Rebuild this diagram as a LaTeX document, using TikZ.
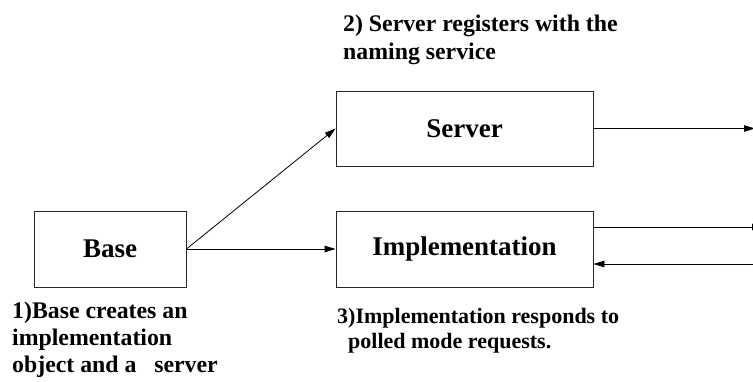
\documentclass[tikz,border=0pt]{standalone}
\usepackage{fontspec}
\setmainfont{Liberation Serif}
\usetikzlibrary{arrows.meta}
\begin{document}
\begin{tikzpicture}[x=1pt, y=-1pt,
  box/.style={draw=black!85, line width=0.9pt, inner sep=0pt,
    font=\fontsize{27}{30}\selectfont\bfseries},
  conn/.style={draw=black, line width=0.8pt,
    -{Triangle[length=11pt, width=6.5pt]}},
  lbl/.style={inner sep=0pt, align=left, anchor=base west}]
  \useasboundingbox (0,0) rectangle (753,381);

  % the three blocks
  \node[box, minimum width=152pt, minimum height=76pt] (base) at (110,249) {Base};
  \node[box, minimum width=257pt, minimum height=75pt] (server) at (464.5,128.5) {Server};
  \node[box, minimum width=257pt, minimum height=76pt] (impl) at (464.5,249) {Implementation};

  % loose ends on the right margin
  \coordinate (sout) at (755,128.5);
  \coordinate (iout) at (763,227);
  \coordinate (iin) at (760,264);

  % connectors
  \draw[conn] (base.east) -- (server.west);
  \draw[conn] (base.east) -- (impl.west);
  \draw[conn] (server.east) -- (sout);
  \draw[conn] (impl.east |- iout) -- (iout);
  \draw[conn] (iin) -- (impl.east |- iin);

  % step descriptions (placed by the baseline of their last line)
  \node[lbl, font=\fontsize{23.8}{28}\selectfont\bfseries] (step2) at (343,59)
    {2) Server registers with the\\naming service};
  \node[lbl, font=\fontsize{23.8}{27}\selectfont\bfseries] (step1) at (12,372)
    {1)Base creates an\\implementation\\object and a\ \ \ server};
  \node[lbl, font=\fontsize{22}{25.5}\selectfont\bfseries] (step3) at (337,348.5)
    {3)Implementation responds to\\\hspace*{11pt}polled mode requests.};
\end{tikzpicture}
\end{document}
